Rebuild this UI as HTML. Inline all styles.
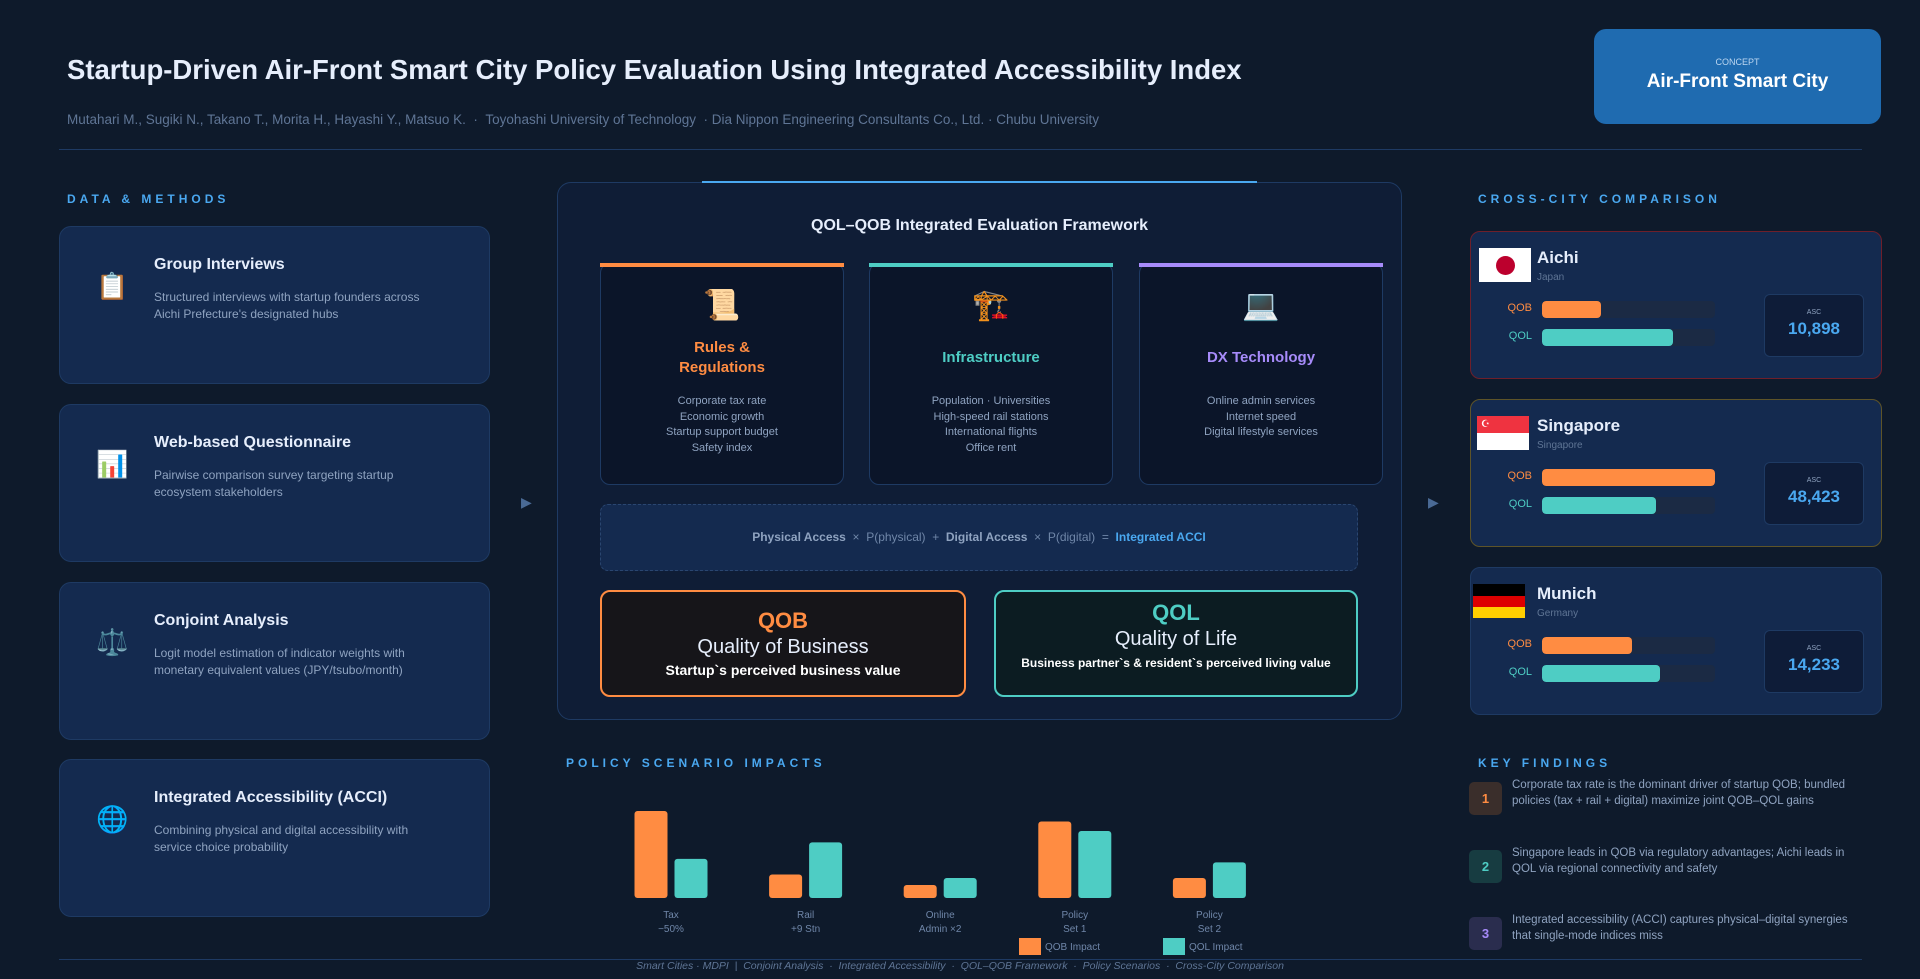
<!DOCTYPE html>
<html><head><meta charset="utf-8"><style>
*{box-sizing:border-box;margin:0;padding:0}
body{width:1920px;height:979px;background:#0e1a2b;font-family:"Liberation Sans",sans-serif;position:relative;overflow:hidden;color:#e6eefc}
.a{position:absolute}
.sec{position:absolute;font-size:12px;font-weight:bold;letter-spacing:4px;color:#4aa8f0}
.lc{position:absolute;left:59px;width:431px;height:158px;background:#142a4f;border:1px solid #1e3a63;border-radius:12px}
.lc .ic{position:absolute;left:36px;top:44px;font-size:26px}
.lc h3{position:absolute;left:94px;top:29px;font-size:16px;font-weight:bold;color:#e6eefc}
.lc p{position:absolute;left:94px;top:62px;width:292px;font-size:12px;line-height:17px;color:#8fa3c0}
.fc{position:absolute;top:263px;width:244px;height:222px;background:#0b1529;border:1px solid #1e3a63;border-radius:10px;text-align:center}
.fc .bar{position:absolute;left:-1px;right:-1px;top:-1px;height:4px}
.fc .ic{position:absolute;left:0;right:0;top:24px;font-size:30px}
.fc h4{position:absolute;left:0;right:0;font-size:15px;font-weight:bold;line-height:20px}
.fc ul{position:absolute;left:0;right:0;top:130px;list-style:none;font-size:11px;line-height:15.5px;color:#8fa3c0}
.cc{position:absolute;left:1470px;width:412px;height:148px;background:#142a4f;border-radius:10px;border:1px solid #1e3a63}
.cc .nm{position:absolute;left:66px;top:16px;font-size:17px;font-weight:bold}
.cc .ct{position:absolute;left:66px;top:40px;font-size:10px;color:#5f7595}
.cc .lb{position:absolute;left:20px;width:41px;text-align:right;font-size:11px}
.cc .tr{position:absolute;left:71px;width:173px;height:17px;background:#1b2a44;border-radius:4px;overflow:hidden}
.cc .tr div{height:100%;border-radius:4px}
.cc .asc{position:absolute;left:293px;top:62px;width:100px;height:63px;background:#0e1c38;border:1px solid #1e3a63;border-radius:6px;text-align:center}
.cc .asc small{display:block;font-size:7px;color:#8fa3c0;margin-top:14px}
.cc .asc b{display:block;font-size:17px;color:#4aa8f0;margin-top:3px}
.fl{position:absolute;left:8px;top:16px;width:52px;height:34px;overflow:hidden}
.kf .bd{position:absolute;left:1469px;width:33px;height:33px;border-radius:5px;text-align:center;line-height:33px;font-size:13px;font-weight:bold}
.kf p{position:absolute;left:1512px;width:345px;font-size:11.5px;line-height:16px;color:#8fa3c0}
</style></head><body>
<div class="a" style="left:67px;top:54px;font-size:27.5px;font-weight:bold;color:#e6eefc">Startup-Driven Air-Front Smart City Policy Evaluation Using Integrated Accessibility Index</div>
<div class="a" style="left:67px;top:112px;font-size:13.5px;color:#5f7595">Mutahari M., Sugiki N., Takano T., Morita H., Hayashi Y., Matsuo K. &nbsp;· &nbsp;Toyohashi University of Technology &nbsp;· Dia Nippon Engineering Consultants Co., Ltd. · Chubu University</div>
<div class="a" style="left:1594px;top:29px;width:287px;height:95px;background:#1f6bb0;border-radius:12px;text-align:center">
<div style="font-size:9px;color:#bcd6f0;margin-top:28px">CONCEPT</div>
<div style="font-size:19px;font-weight:bold;color:#fff;margin-top:4px">Air-Front Smart City</div></div>
<div class="a" style="left:59px;top:149px;width:1803px;height:1px;background:#1e3a63"></div>

<div class="sec" style="left:67px;top:192px">DATA &amp; METHODS</div>
<div class="lc" style="top:226px"><div class="ic">📋</div><h3>Group Interviews</h3><p>Structured interviews with startup founders across Aichi Prefecture's designated hubs</p></div>
<div class="lc" style="top:404px"><div class="ic">📊</div><h3>Web-based Questionnaire</h3><p>Pairwise comparison survey targeting startup ecosystem stakeholders</p></div>
<div class="lc" style="top:582px"><div class="ic">⚖️</div><h3>Conjoint Analysis</h3><p>Logit model estimation of indicator weights with monetary equivalent values (JPY/tsubo/month)</p></div>
<div class="lc" style="top:759px"><div class="ic">🌐</div><h3>Integrated Accessibility (ACCI)</h3><p>Combining physical and digital accessibility with service choice probability</p></div>

<div class="a" style="left:521px;top:494px;font-size:14px;color:#4a6a95">▶</div>
<div class="a" style="left:1428px;top:494px;font-size:14px;color:#4a6a95">▶</div>

<div class="a" style="left:557px;top:182px;width:845px;height:538px;background:#0f1d36;border:1px solid #1e3a63;border-radius:14px"></div>
<div class="a" style="left:702px;top:181px;width:555px;height:2px;background:#4aa8f0"></div>
<div class="a" style="left:557px;width:845px;top:217px;text-align:center;font-size:16px;font-weight:bold">QOL–QOB Integrated Evaluation Framework</div>

<div class="fc" style="left:600px"><div class="bar" style="background:#ff8c42"></div><div class="ic">📜</div><h4 style="top:74px;color:#ff8c42">Rules &amp;<br>Regulations</h4><ul><li>Corporate tax rate</li><li>Economic growth</li><li>Startup support budget</li><li>Safety index</li></ul></div>
<div class="fc" style="left:869px"><div class="bar" style="background:#4ecdc4"></div><div class="ic">🏗️</div><h4 style="top:84px;color:#4ecdc4">Infrastructure</h4><ul><li>Population · Universities</li><li>High-speed rail stations</li><li>International flights</li><li>Office rent</li></ul></div>
<div class="fc" style="left:1139px"><div class="bar" style="background:#a78bfa"></div><div class="ic">💻</div><h4 style="top:84px;color:#a78bfa">DX Technology</h4><ul><li>Online admin services</li><li>Internet speed</li><li>Digital lifestyle services</li></ul></div>

<div class="a" style="left:600px;top:504px;width:758px;height:67px;background:#142a4f;border:1px dashed #2a4670;border-radius:8px;text-align:center;line-height:65px;font-size:12px;color:#6f86a8"><b style="color:#8fa3c0">Physical Access</b> &nbsp;×&nbsp; P(physical) &nbsp;+&nbsp; <b style="color:#8fa3c0">Digital Access</b> &nbsp;×&nbsp; P(digital) &nbsp;=&nbsp; <b style="color:#4aa8f0">Integrated ACCI</b></div>

<div class="a" style="left:600px;top:590px;width:366px;height:107px;background:#161519;border:2px solid #ff8c42;border-radius:10px;text-align:center">
<div style="font-size:22px;font-weight:bold;color:#ff8c42;margin-top:16px">QOB</div>
<div style="font-size:20px;color:#e6eefc;margin-top:2px">Quality of Business</div>
<div style="font-size:14px;font-weight:bold;color:#fff;margin-top:3px">Startup`s perceived business value</div></div>
<div class="a" style="left:994px;top:590px;width:364px;height:107px;background:#0c1c22;border:2px solid #4ecdc4;border-radius:10px;text-align:center">
<div style="font-size:22px;font-weight:bold;color:#4ecdc4;margin-top:8px">QOL</div>
<div style="font-size:20px;color:#e6eefc;margin-top:2px">Quality of Life</div>
<div style="font-size:12px;font-weight:bold;color:#fff;margin-top:5px">Business partner`s &amp; resident`s perceived living value</div></div>

<div class="sec" style="left:566px;top:756px">POLICY SCENARIO IMPACTS</div>
<svg id="chart" class="a" style="left:0;top:0" width="1920" height="979"></svg>

<div class="a" style="left:59px;top:959px;width:1803px;height:1px;background:#1e3a63"></div>
<div class="a" style="left:0;width:1920px;top:960px;text-align:center;font-size:10.5px;font-style:italic;color:#5f7595">Smart Cities · MDPI &nbsp;| &nbsp;Conjoint Analysis &nbsp;· &nbsp;Integrated Accessibility &nbsp;· &nbsp;QOL–QOB Framework &nbsp;· &nbsp;Policy Scenarios &nbsp;· &nbsp;Cross-City Comparison</div>

<div class="sec" style="left:1478px;top:192px">CROSS-CITY COMPARISON</div>
<div class="cc" style="top:231px;border-color:#6e1f2a">
<div class="fl" style="background:#fff"><div style="position:absolute;left:17px;top:8px;width:19px;height:19px;border-radius:50%;background:#bc002d"></div></div>
<div class="nm">Aichi</div><div class="ct">Japan</div>
<div class="lb" style="top:70px;color:#ff8c42">QOB</div><div class="tr" style="top:69px"><div style="width:34%;background:#ff8c42"></div></div>
<div class="lb" style="top:98px;color:#4ecdc4">QOL</div><div class="tr" style="top:97px"><div style="width:76%;background:#4ecdc4"></div></div>
<div class="asc"><small>ASC</small><b>10,898</b></div></div>
<div class="cc" style="top:399px;border-color:#5e5428">
<div class="fl" style="left:6px;background:#fff"><div style="height:17px;background:#ef3340;color:#fff;font-size:10px;padding-left:4px;line-height:17px">☪</div></div>
<div class="nm">Singapore</div><div class="ct">Singapore</div>
<div class="lb" style="top:70px;color:#ff8c42">QOB</div><div class="tr" style="top:69px"><div style="width:100%;background:#ff8c42"></div></div>
<div class="lb" style="top:98px;color:#4ecdc4">QOL</div><div class="tr" style="top:97px"><div style="width:66%;background:#4ecdc4"></div></div>
<div class="asc"><small>ASC</small><b>48,423</b></div></div>
<div class="cc" style="top:567px">
<div class="fl" style="left:2px"><div style="height:12px;background:#000"></div><div style="height:11px;background:#dd0000"></div><div style="height:11px;background:#ffce00"></div></div>
<div class="nm">Munich</div><div class="ct">Germany</div>
<div class="lb" style="top:70px;color:#ff8c42">QOB</div><div class="tr" style="top:69px"><div style="width:52%;background:#ff8c42"></div></div>
<div class="lb" style="top:98px;color:#4ecdc4">QOL</div><div class="tr" style="top:97px"><div style="width:68%;background:#4ecdc4"></div></div>
<div class="asc"><small>ASC</small><b>14,233</b></div></div>

<div class="sec" style="left:1478px;top:756px">KEY FINDINGS</div>
<div class="kf">
<div class="bd" style="top:782px;background:#3a2e2b;color:#ff8c42">1</div><p style="top:777px">Corporate tax rate is the dominant driver of startup QOB; bundled policies (tax + rail + digital) maximize joint QOB–QOL gains</p>
<div class="bd" style="top:850px;background:#173c41;color:#4ecdc4">2</div><p style="top:845px">Singapore leads in QOB via regulatory advantages; Aichi leads in QOL via regional connectivity and safety</p>
<div class="bd" style="top:917px;background:#2a2d4e;color:#a78bfa">3</div><p style="top:912px">Integrated accessibility (ACCI) captures physical–digital synergies that single-mode indices miss</p>
</div>

<script>
const categories1=["Tax","Rail","Online","Policy","Policy"];
const categories2=["−50%","+9 Stn","Admin ×2","Set 1","Set 2"];
const qobValues=[100,27,15,88,23];
const qolValues=[45,64,23,77,41];
const NS="http://www.w3.org/2000/svg";
const svg=document.getElementById('chart');
const baseY=898, pxPerUnit=0.87, x0=671, step=134.6, bw=33, gap=7;
function yScale(v){return baseY-v*pxPerUnit;}
function xCenter(i){return x0+i*step;}
function mk(t,a){const e=document.createElementNS(NS,t);for(const k in a)e.setAttribute(k,a[k]);svg.appendChild(e);return e;}
categories1.forEach((c,i)=>{
  const cx=xCenter(i);
  const b1=mk('rect',{x:cx-bw-gap/2,y:yScale(qobValues[i]),width:bw,height:baseY-yScale(qobValues[i]),rx:3,fill:'#ff8c42'});
  
  
  const b2=mk('rect',{x:cx+gap/2,y:yScale(qolValues[i]),width:bw,height:baseY-yScale(qolValues[i]),rx:3,fill:'#4ecdc4'});
  
  
  const t1=mk('text',{x:cx,y:918,'text-anchor':'middle','font-size':'10','fill':'#6f86a8','font-family':'Liberation Sans'});
  t1.textContent=c;
  
  
  const t2=mk('text',{x:cx,y:932,'text-anchor':'middle','font-size':'10','fill':'#6f86a8','font-family':'Liberation Sans'});
  t2.textContent=categories2[i];
  
  
});
const legend=[["QOB Impact","#ff8c42",1019],["QOL Impact","#4ecdc4",1163]];
legend.forEach(l=>{
  const r=mk('rect',{x:l[2],y:938,width:22,height:17,fill:l[1]});
  
  
  const t=mk('text',{x:l[2]+26,y:950,'font-size':'10','fill':'#6f86a8','font-family':'Liberation Sans'});
  t.textContent=l[0];
  
  
});
</script>
</body></html>
